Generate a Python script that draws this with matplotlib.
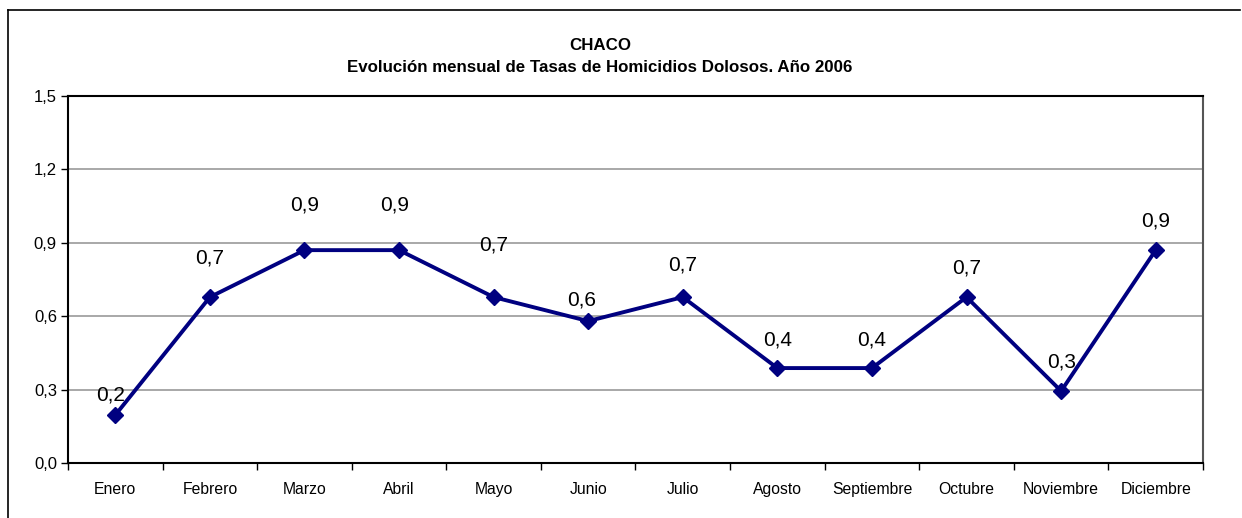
import matplotlib.pyplot as plt
import numpy as np
from matplotlib.lines import Line2D

plt.rcParams['font.family'] = ['Liberation Sans', 'DejaVu Sans']

# =========================
# DATA
# =========================
meses = ['Enero', 'Febrero', 'Marzo', 'Abril', 'Mayo', 'Junio', 'Julio',
         'Agosto', 'Septiembre', 'Octubre', 'Noviembre', 'Diciembre']
tasas = [0.196, 0.678, 0.870, 0.870, 0.678, 0.580, 0.678,
         0.388, 0.388, 0.678, 0.294, 0.870]
etiquetas = ['0,2', '0,7', '0,9', '0,9', '0,7', '0,6', '0,7',
             '0,4', '0,4', '0,7', '0,3', '0,9']
yticks = [0.0, 0.3, 0.6, 0.9, 1.2, 1.5]
ytick_labels = ['0,0', '0,3', '0,6', '0,9', '1,2', '1,5']

# label offsets in pixels (dx, dy) as placed in the original chart
label_dx = [-5, 0, 0, -4, 0, -7, 0, 0, 0, 0, 0, 0]
label_dy = [20, 39, 45, 45, 52, 21, 32, 28, 28, 29, 29, 29]

# =========================
# FIGURE
# =========================
W, H = 1242, 518
fig = plt.figure(figsize=(W / 100, H / 100), dpi=100)
ax = fig.add_axes([68 / W, 1 - 463 / H, (1203 - 68) / W, (463 - 96) / H])

x = np.arange(len(meses))
ax.plot(x, tasas, color='#000080', lw=2.8, marker='D', ms=8.5,
        markeredgecolor='#000080', markerfacecolor='#000080', zorder=3)

for xi, yi, txt, dx, dy in zip(x, tasas, etiquetas, label_dx, label_dy):
    ax.annotate(txt, (xi, yi), xytext=(dx * 0.72, dy * 0.72),
                textcoords='offset points', ha='center', va='center',
                fontsize=15, color='black', zorder=4)

ax.set_xlim(-0.5, len(meses) - 0.5)
ax.set_ylim(0, 1.5)
ax.set_yticks(yticks)
ax.set_yticklabels(ytick_labels, fontsize=12)
ax.yaxis.grid(True, color='#999999', lw=1.2)
ax.set_axisbelow(True)

ax.set_xticks(x)
ax.set_xticklabels(meses, fontsize=11.3)
ax.tick_params(axis='x', length=0, pad=14)
ax.set_xticks(np.arange(len(meses) + 1) - 0.5, minor=True)
ax.tick_params(axis='x', which='minor', length=5, width=1, direction='out')
ax.tick_params(axis='y', length=5, width=1, direction='out', pad=3)

for side in ['left', 'bottom', 'top']:
    ax.spines[side].set_linewidth(1.5)
ax.spines['right'].set_color('#555555')
ax.spines['right'].set_linewidth(1.5)

fig.text(600 / W, 1 - 45 / H, 'CHACO', ha='center', va='center',
         fontsize=12.2, fontweight='bold')
fig.text(600 / W, 1 - 67 / H,
         'Evolución mensual de Tasas de Homicidios Dolosos. Año 2006',
         ha='center', va='center', fontsize=12.2, fontweight='bold')

# outer chart frame (left and top edges)
frame = dict(color='black', lw=1.2, transform=fig.transFigure)
fig.add_artist(Line2D([8 / W, 8 / W], [0, 1 - 10 / H], **frame))
fig.add_artist(Line2D([8 / W, 1240 / W], [1 - 10 / H, 1 - 10 / H], **frame))

fig.savefig('out.png', dpi=100)
